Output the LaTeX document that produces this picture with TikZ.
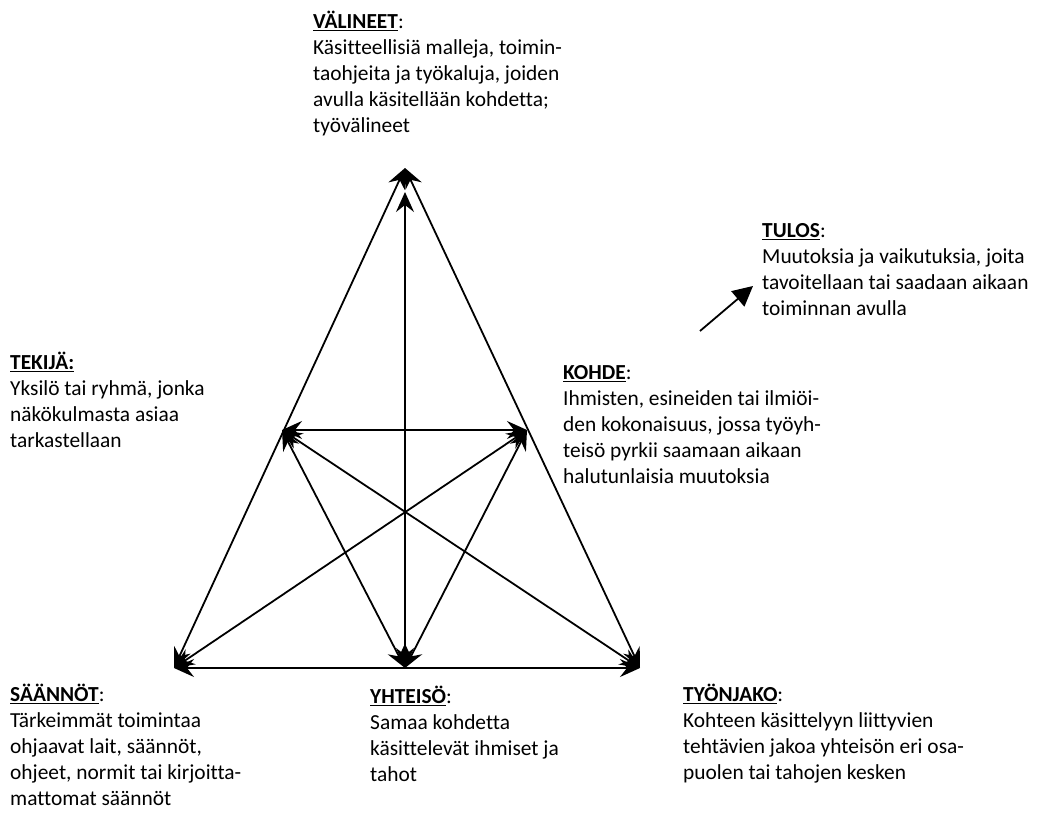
\documentclass[tikz,border=0pt]{standalone}
\usepackage{fontspec}
\setmainfont{Carlito}[Ligatures=NoCommon]
\usetikzlibrary{arrows.meta}
\begin{document}
\begin{tikzpicture}[x=1pt,y=-1pt,
  tip/.tip={Stealth[length=20pt,width=18pt,inset=7pt]},
  conn/.style={line width=1.8pt,{tip}-{tip}},
  txt/.style={anchor=north west,inner sep=0pt,align=left,font=\fontsize{21.4}{26}\selectfont},
  resarrow/.style={line width=1.8pt,-{Triangle[length=20pt,width=20pt]}}]
\path[use as bounding box] (0,0) rectangle (1037,818);
% vertices
\coordinate (V) at (405,168);
\coordinate (Vt) at (405,192);
\coordinate (T) at (282,430);
\coordinate (K) at (527,430);
\coordinate (S) at (174,668);
\coordinate (Y) at (405,668);
\coordinate (J) at (640,668);
% connectors
\draw[conn] (V) -- (S);
\draw[conn] (V) -- (J);
\draw[conn] (Y) -- (Vt);
\draw[conn] (T) -- (K);
\draw[conn] (S) -- (J);
\draw[conn] (T) -- (J);
\draw[conn] (K) -- (S);
\draw[conn] (T) -- (Y);
\draw[conn] (K) -- (Y);
% result arrow
\coordinate (R0) at (700,331);
\coordinate (R1) at (753,286);
\draw[resarrow] (R0) -- (R1);
% texts
\node[txt] (valineet) at (313,11) {\rule{0pt}{16pt}\underline{\textbf{VÄLINEET}}:\\
Käsitteellisiä malleja, toimin-\\
taohjeita ja työkaluja, joiden\\
avulla käsitellään kohdetta;\\
työvälineet};
\node[txt] (tulos) at (762,221) {\rule{0pt}{16pt}\underline{\textbf{TULOS}}:\\
Muutoksia ja vaikutuksia, joita\\
tavoitellaan tai saadaan aikaan\\
toiminnan avulla};
\node[txt] (tekija) at (10,352) {\rule{0pt}{16pt}\underline{\textbf{TEKIJÄ:}}\\
Yksilö tai ryhmä, jonka\\
näkökulmasta asiaa\\
tarkastellaan};
\node[txt] (kohde) at (563,363) {\rule{0pt}{16pt}\underline{\textbf{KOHDE}}:\\
Ihmisten, esineiden tai ilmiöi-\\
den kokonaisuus, jossa työyh-\\
teisö pyrkii saamaan aikaan\\
halutunlaisia muutoksia};
\node[txt] (saannot) at (10,684) {\rule{0pt}{16pt}\underline{\textbf{SÄÄNNÖT}}:\\
Tärkeimmät toimintaa\\
ohjaavat lait, säännöt,\\
ohjeet, normit tai kirjoitta-\\
mattomat säännöt};
\node[txt] (yhteiso) at (370,686) {\rule{0pt}{16pt}\underline{\textbf{YHTEISÖ}}:\\
Samaa kohdetta\\
käsittelevät ihmiset ja\\
tahot};
\node[txt] (tyonjako) at (683,684) {\rule{0pt}{16pt}\underline{\textbf{TYÖNJAKO}}:\\
Kohteen käsittelyyn liittyvien\\
tehtävien jakoa yhteisön eri osa-\\
puolen tai tahojen kesken};
\end{tikzpicture}
\end{document}
